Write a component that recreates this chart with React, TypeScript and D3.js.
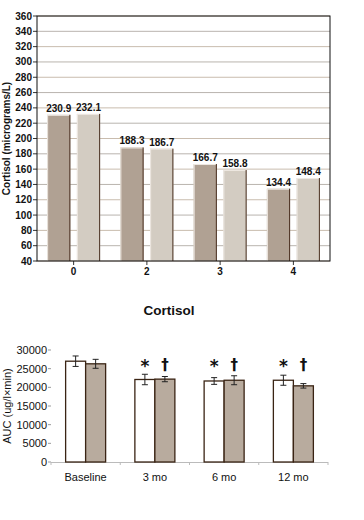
import React from 'react';
import * as d3 from 'd3';

// top chart
const weeks = ['0', '2', '3', '4'];
const groupA = [230.9, 188.3, 166.7, 134.4];
const groupB = [232.1, 186.7, 158.8, 148.4];
const topTicks = [40, 60, 80, 100, 120, 140, 160, 180, 200, 220, 240, 260, 280, 300, 320, 340, 360];

// bottom chart
const visits = ['Baseline', '3 mo', '6 mo', '12 mo'];
const aucWhite = [27000, 22100, 21700, 21900];
const aucWhiteErr = [1400, 1400, 900, 1350];
const aucGray = [26300, 22200, 21900, 20400];
const aucGrayErr = [1200, 700, 1200, 600];
const markWhite = ['', '*', '*', '*'];
const markGray = ['', '†', '†', '†'];
const aucTicks = [0, 5000, 10000, 15000, 20000, 25000, 30000];

const TopChart = () => {
  const left = 37, right = 330, top = 16, bottom = 261;
  const x = d3.scaleBand().domain(weeks).range([left, right]);
  const y = d3.scaleLinear().domain([40, 360]).range([bottom, top]);
  const sub = d3.scaleBand().domain(['a', 'b']).range([-26.5, 26.5]).paddingInner(0.22);
  const font = 'Liberation Sans, Arial, sans-serif';
  const fills = { a: '#b0a193', b: '#d3ccc2' };

  return (
    <g fontFamily={font} fontWeight="bold" fill="#111">
      {topTicks.map((t) => (
        <g key={t}>
          <line x1={left} x2={right} y1={y(t)} y2={y(t)} stroke={t % 40 === 0 ? '#c9bcae' : '#b9b4ae'} />
          <line x1={left - 4} x2={left} y1={y(t)} y2={y(t)} stroke="#333" />
          <text x={left - 5} y={y(t)} dy="0.35em" textAnchor="end" fontSize={10}>{t}</text>
        </g>
      ))}
      {weeks.map((w, i) => {
        const cx = x(w)! + x.bandwidth() / 2;
        return (
          <g key={w}>
            {(['a', 'b'] as const).map((s) => {
              const v = s === 'a' ? groupA[i] : groupB[i];
              const bx = cx + sub(s)!;
              const bw = sub.bandwidth();
              return (
                <g key={s}>
                  <rect x={bx} y={y(v)} width={bw} height={bottom - y(v)} fill={fills[s]} />
                  <line x1={bx + 0.5} x2={bx + 0.5} y1={y(v)} y2={bottom} stroke="#eee8e2" />
                  <line x1={bx} x2={bx + bw} y1={y(v) + 0.5} y2={y(v) + 0.5} stroke="#eee8e2" />
                  <line x1={bx + bw - 0.5} x2={bx + bw - 0.5} y1={y(v)} y2={bottom} stroke="#4a3020" />
                  <text x={bx + bw / 2} y={y(v) - 3} textAnchor="middle" fontSize={10}>{v.toFixed(1)}</text>
                </g>
              );
            })}
            <line x1={cx} x2={cx} y1={bottom} y2={bottom + 4} stroke="#333" />
            <text x={cx} y={bottom + 14} textAnchor="middle" fontSize={10}>{w}</text>
          </g>
        );
      })}
      <rect x={left} y={top} width={right - left} height={bottom - top} fill="none" stroke="#111" />
      <text transform={`translate(10,${(top + bottom) / 2}) rotate(-90)`} textAnchor="middle" fontSize={10}>
        Cortisol (micrograms/L)
      </text>
    </g>
  );
};

const BottomChart = () => {
  const left = 51, right = 328, top = 350, bottom = 462;
  const x = d3.scaleBand().domain(visits).range([left, right]);
  const y = d3.scaleLinear().domain([0, 30000]).range([bottom, top]);
  const sub = d3.scaleBand().domain(['w', 'g']).range([-20, 20]);
  const font = 'Liberation Sans, Arial, sans-serif';
  const bw = sub.bandwidth();

  return (
    <g fontFamily={font} fill="#111">
      <text x={169} y={315} textAnchor="middle" fontSize={13.5} fontWeight="bold">Cortisol</text>
      {aucTicks.map((t) => (
        <g key={t}>
          <line x1={left - 3} x2={left} y1={y(t)} y2={y(t)} stroke="#999" />
          <text x={left - 4} y={y(t)} dy="0.35em" textAnchor="end" fontSize={11}>{t}</text>
        </g>
      ))}
      <line x1={left} x2={right} y1={bottom + 0.5} y2={bottom + 0.5} stroke="#bbb" />
      {[...visits.map((v) => x(v)!), right].map((p, i) => (
        <line key={i} x1={p} x2={p} y1={bottom} y2={bottom + 3} stroke="#bbb" />
      ))}
      {visits.map((v, i) => {
        const cx = x(v)! + x.bandwidth() / 2;
        const bars = [
          { k: 'w', val: aucWhite[i], err: aucWhiteErr[i], fill: '#fff', mark: markWhite[i] },
          { k: 'g', val: aucGray[i], err: aucGrayErr[i], fill: '#b8ab9e', mark: markGray[i] },
        ];
        return (
          <g key={v}>
            {bars.map((b) => {
              const bx = cx + sub(b.k)!;
              const mx = bx + bw / 2;
              return (
                <g key={b.k}>
                  <rect x={bx} y={y(b.val)} width={bw} height={bottom - y(b.val)} fill={b.fill} stroke="#3a2414" strokeWidth={1.3} />
                  <line x1={mx} x2={mx} y1={y(b.val + b.err)} y2={y(b.val - b.err)} stroke="#222" />
                  <line x1={mx - 3} x2={mx + 3} y1={y(b.val + b.err)} y2={y(b.val + b.err)} stroke="#222" />
                  <line x1={mx - 3} x2={mx + 3} y1={y(b.val - b.err)} y2={y(b.val - b.err)} stroke="#222" />
                  {b.mark && (
                    <text x={mx} y={b.k === 'w' ? 372 : 370} textAnchor="middle" fontSize={b.k === 'w' ? 17 : 15} fontWeight="bold" fill="#111" fontFamily="DejaVu Sans, sans-serif">{b.mark}</text>
                  )}
                </g>
              );
            })}
            <text x={cx} y={481} textAnchor="middle" fontSize={11}>{v}</text>
          </g>
        );
      })}
      <text transform={`translate(11,${(top + bottom) / 2}) rotate(-90)`} textAnchor="middle" fontSize={11}>
        AUC (ug/l×min)
      </text>
    </g>
  );
};

export default function App() {
  return (
    <svg width={364} height={520} style={{ position: 'absolute', left: 0, top: 0, background: '#fff' }}>
      <rect width={364} height={520} fill="#fff" />
      <TopChart />
      <BottomChart />
    </svg>
  );
}
